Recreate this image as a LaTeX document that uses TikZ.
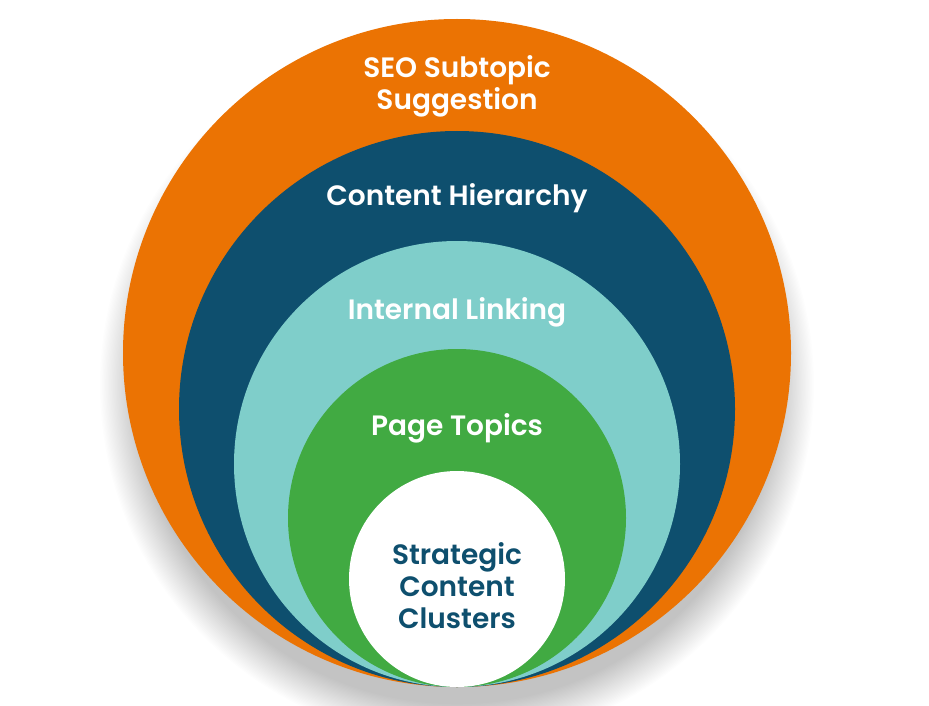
\documentclass[tikz,border=0pt]{standalone}
\usepackage{fontspec}
\newfontfamily\popfont{Poppins SemiBold}
\definecolor{seoorange}{HTML}{EB7303}
\definecolor{darkblue}{HTML}{0E4F6E}
\definecolor{tealc}{HTML}{7FCECA}
\definecolor{greenc}{HTML}{41AA42}
\begin{document}
\begin{tikzpicture}[x=1pt,y=-1pt,
  ring/.style={circle, inner sep=0pt, outer sep=0pt, draw=none},
  lbl/.style={font=\popfont\fontsize{28}{32}\selectfont, text=white, align=center, inner sep=0pt},
  lbldark/.style={lbl, text=darkblue}]
\useasboundingbox (0,0) rectangle (929,706);
\fill[white] (0,0) rectangle (929,706);
% soft shadow
\foreach \i in {1,...,30}{
  \fill[black, opacity=0.0065] (457,385) circle ({318+\i*1.3});
}
\node[ring, fill=seoorange, minimum size=668pt] (orange) at (457,353) {};
\node[ring, fill=darkblue, minimum size=556pt] (blue) at (457,409) {};
\node[ring, fill=tealc, minimum size=446pt] (teal) at (457,464) {};
\node[ring, fill=greenc, minimum size=338pt] (green) at (457,518) {};
\node[ring, fill=white, minimum size=216pt] (white) at (457,579) {};
\node[lbl] (t1) at (457,86) {SEO Subtopic\\Suggestion};
\node[lbl] (t2) at (457,198) {Content Hierarchy};
\node[lbl] (t3) at (457,312) {Internal Linking};
\node[lbl] (t4) at (457,428) {Page Topics};
\node[lbldark] (t5) at (457,586) {Strategic\\Content\\Clusters};
\end{tikzpicture}
\end{document}
